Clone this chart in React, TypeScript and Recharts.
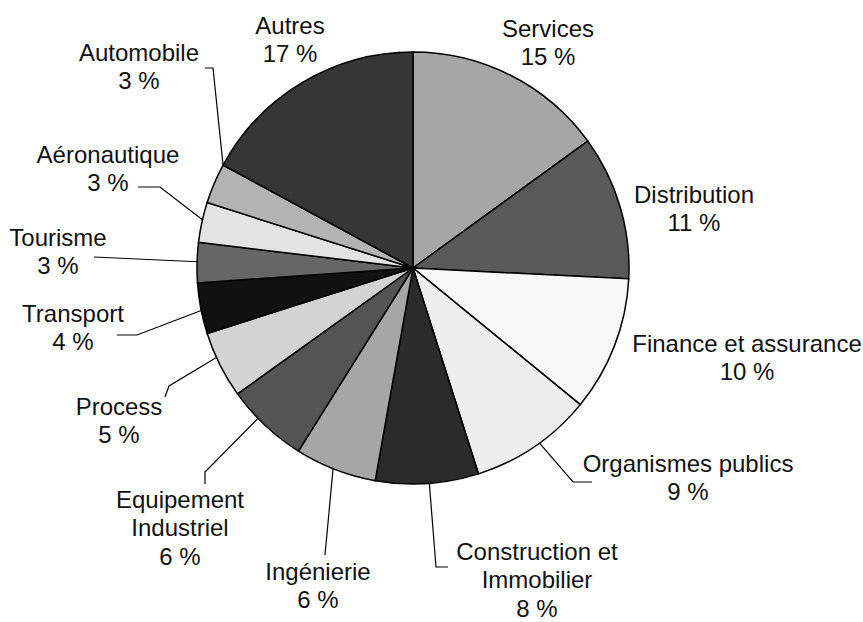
import React from 'react';
import { PieChart, Pie, Cell } from 'recharts';

const sectors = [
  'Services',
  'Distribution',
  'Finance et assurance',
  'Organismes publics',
  'Construction et Immobilier',
  'Ingénierie',
  'Equipement Industriel',
  'Process',
  'Transport',
  'Tourisme',
  'Aéronautique',
  'Automobile',
  'Autres',
];
const shares = [15, 10.8, 10.1, 9.2, 7.7, 6.1, 6.2, 5.0, 3.8, 3.0, 3.0, 3.0, 17.1];
const fills = [
  '#a6a6a6', '#595959', '#f8f8f8', '#eeeeee', '#2b2b2b', '#a6a6a6', '#545454',
  '#d3d3d3', '#111111', '#666666', '#e3e3e3', '#b3b3b3', '#363636',
];

const data = sectors.map((name, i) => ({ name, value: shares[i] }));

// labels were placed by hand in the original, so keep their anchors here
// line = leader points from the label side; last point is put on the arc (t = position inside slice)
const labelLayout: { x: number; y: number; wrap?: boolean; line?: number[][]; t?: number }[] = [
  { x: 548, y: 37 },
  { x: 694, y: 203 },
  { x: 747, y: 352 },
  { x: 688, y: 472, line: [[592, 482], [573, 482]], t: 0.45 },
  { x: 537, y: 560, wrap: true, line: [[448, 567], [436, 567]], t: 0.48 },
  { x: 318, y: 580, line: [[325, 555]], t: 0.53 },
  { x: 180, y: 508, wrap: true, line: [[205, 484], [205, 472]], t: 0.62 },
  { x: 119, y: 415, line: [[165, 397], [169, 386]], t: 0.62 },
  { x: 73, y: 322, line: [[117, 335], [137, 335]], t: 0.46 },
  { x: 58, y: 246, line: [[94, 257]], t: 0.52 },
  { x: 108, y: 163, line: [[138, 187], [160, 187]], t: 0.56 },
  { x: 139, y: 61, line: [[205, 68], [213, 68]], t: 1 },
  { x: 290, y: 34 },
];

const total = shares.reduce((a, b) => a + b, 0);
const startAngleOf = (i: number) => 90 - (360 * shares.slice(0, i).reduce((a, b) => a + b, 0)) / total;

const LINE_H = 28.3;

const renderLabel = (props: any) => {
  const { cx, cy, outerRadius, index, value, name } = props;
  const lay = labelLayout[index];
  let lines: string[] = [name];
  if (lay.wrap) {
    const cut = name.lastIndexOf(' ');
    lines = [name.slice(0, cut), name.slice(cut + 1)];
  }
  lines.push(`${Math.round(value)} %`);

  let leader = null;
  if (lay.line) {
    const a0 = startAngleOf(index);
    const a1 = startAngleOf(index + 1);
    const a = ((a0 + (a1 - a0) * (lay.t ?? 0.5)) * Math.PI) / 180;
    const end = [cx + outerRadius * Math.cos(a), cy - outerRadius * Math.sin(a)];
    const pts = [...lay.line, end].map((p) => p.join(',')).join(' ');
    leader = <polyline points={pts} fill="none" stroke="#000" strokeWidth={1.2} />;
  }

  return (
    <g>
      {leader}
      <text
        x={lay.x}
        y={lay.y}
        textAnchor="middle"
        fill="#111"
        fontSize={24}
        fontFamily="'Liberation Sans', Arial, Helvetica, sans-serif"
      >
        {lines.map((l, k) => (
          <tspan key={k} x={lay.x} y={lay.y + k * LINE_H}>
            {l}
          </tspan>
        ))}
      </text>
    </g>
  );
};

const App: React.FC = () => {
  return (
    <div style={{ position: 'absolute', left: 0, top: 0, background: '#fff' }}>
      <PieChart width={863} height={622} margin={{ top: 0, right: 0, bottom: 0, left: 0 }}>
        <Pie
          data={data}
          dataKey="value"
          nameKey="name"
          cx={413}
          cy={268}
          outerRadius={216}
          startAngle={90}
          endAngle={-270}
          stroke="#000"
          strokeWidth={1.5}
          labelLine={false}
          label={renderLabel}
          isAnimationActive={false}
        >
          {data.map((d, i) => (
            <Cell key={d.name} fill={fills[i]} />
          ))}
        </Pie>
      </PieChart>
    </div>
  );
};

export default App;
